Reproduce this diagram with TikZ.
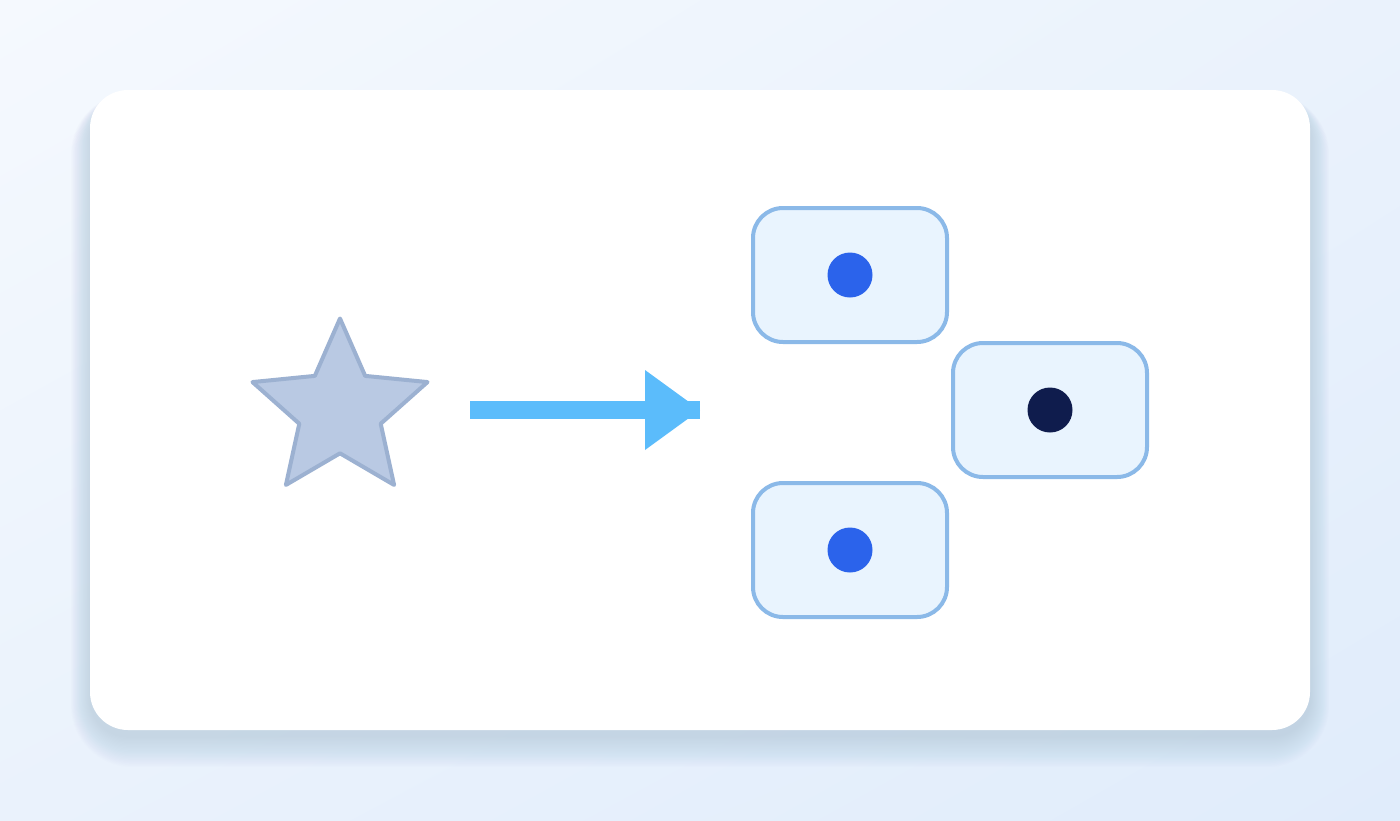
\documentclass[tikz,border=0pt]{standalone}
\usepackage{tikz}
\usetikzlibrary{calc}
\usetikzlibrary{shapes.geometric,shadings,positioning}
\usepackage{xcolor}
\definecolor{bgtl}{HTML}{F5F9FE}
\definecolor{bgtr}{HTML}{EAF2FC}
\definecolor{bgbl}{HTML}{EAF2FC}
\definecolor{bgbr}{HTML}{E0ECFB}
\definecolor{shadowc}{HTML}{7D95BC}
\definecolor{starfill}{HTML}{B9C9E3}
\definecolor{starline}{HTML}{9CB1D1}
\definecolor{flowc}{HTML}{5BBCFB}
\definecolor{cellfill}{HTML}{E9F4FE}
\definecolor{cellline}{HTML}{8BB9E8}
\definecolor{dotblue}{HTML}{2B63EB}
\definecolor{dotnavy}{HTML}{0F1C4D}
\tikzset{
  cell/.style={draw=cellline, fill=cellfill, line width=4pt, rounded corners=30pt,
    minimum width=194pt, minimum height=134pt, inner sep=0pt},
  dot/.style={fill=#1},
  flow/.style={draw=flowc, line width=18pt}
}

\begin{document}
\begin{tikzpicture}[x=1pt,y=-1pt]
        \useasboundingbox (0,0) rectangle (1400,820);
        \shade[upper left=bgtl, upper right=bgtr, lower left=bgbl, lower right=bgbr]
          (0,0) rectangle (1400,820);
        % card with soft shadow
        \foreach \i [evaluate=\i as \r using 38+\i] in {1,...,24}
          \fill[shadowc, opacity=0.011, rounded corners=\r pt]
            (90-0.8*\i,100-0.3*\i) rectangle (1310+0.8*\i,736+1.3*\i);
        \fill[white, rounded corners=38pt] (90,90) rectangle (1310,730);
        % source shape
        \node[star, star points=5, star point ratio=2.15, minimum size=184pt, inner sep=0pt,
          draw=starline, fill=starfill, line width=4pt, line join=round] (src) at (340,410.5) {};
        % arrow
        \coordinate (tail) at (470,410);
        \coordinate (head) at (700,410);
        \draw[flow] (tail) -- (head);
        \fill[flowc] (head) -- ++(-55,-40) -- ++(0,80) -- cycle;
        % target cells
        \node[cell] (top) at (850,275) {};
        \node[cell, below right=-3pt and 2pt of top] (mid) {};
        \node[cell] (low) at (850,550) {};
        \fill[dot=dotblue] (top.center) circle (22.5);
        \fill[dot=dotnavy] (mid.center) circle (22.5);
        \fill[dot=dotblue] (low.center) circle (22.5);
\end{tikzpicture}
\end{document}
